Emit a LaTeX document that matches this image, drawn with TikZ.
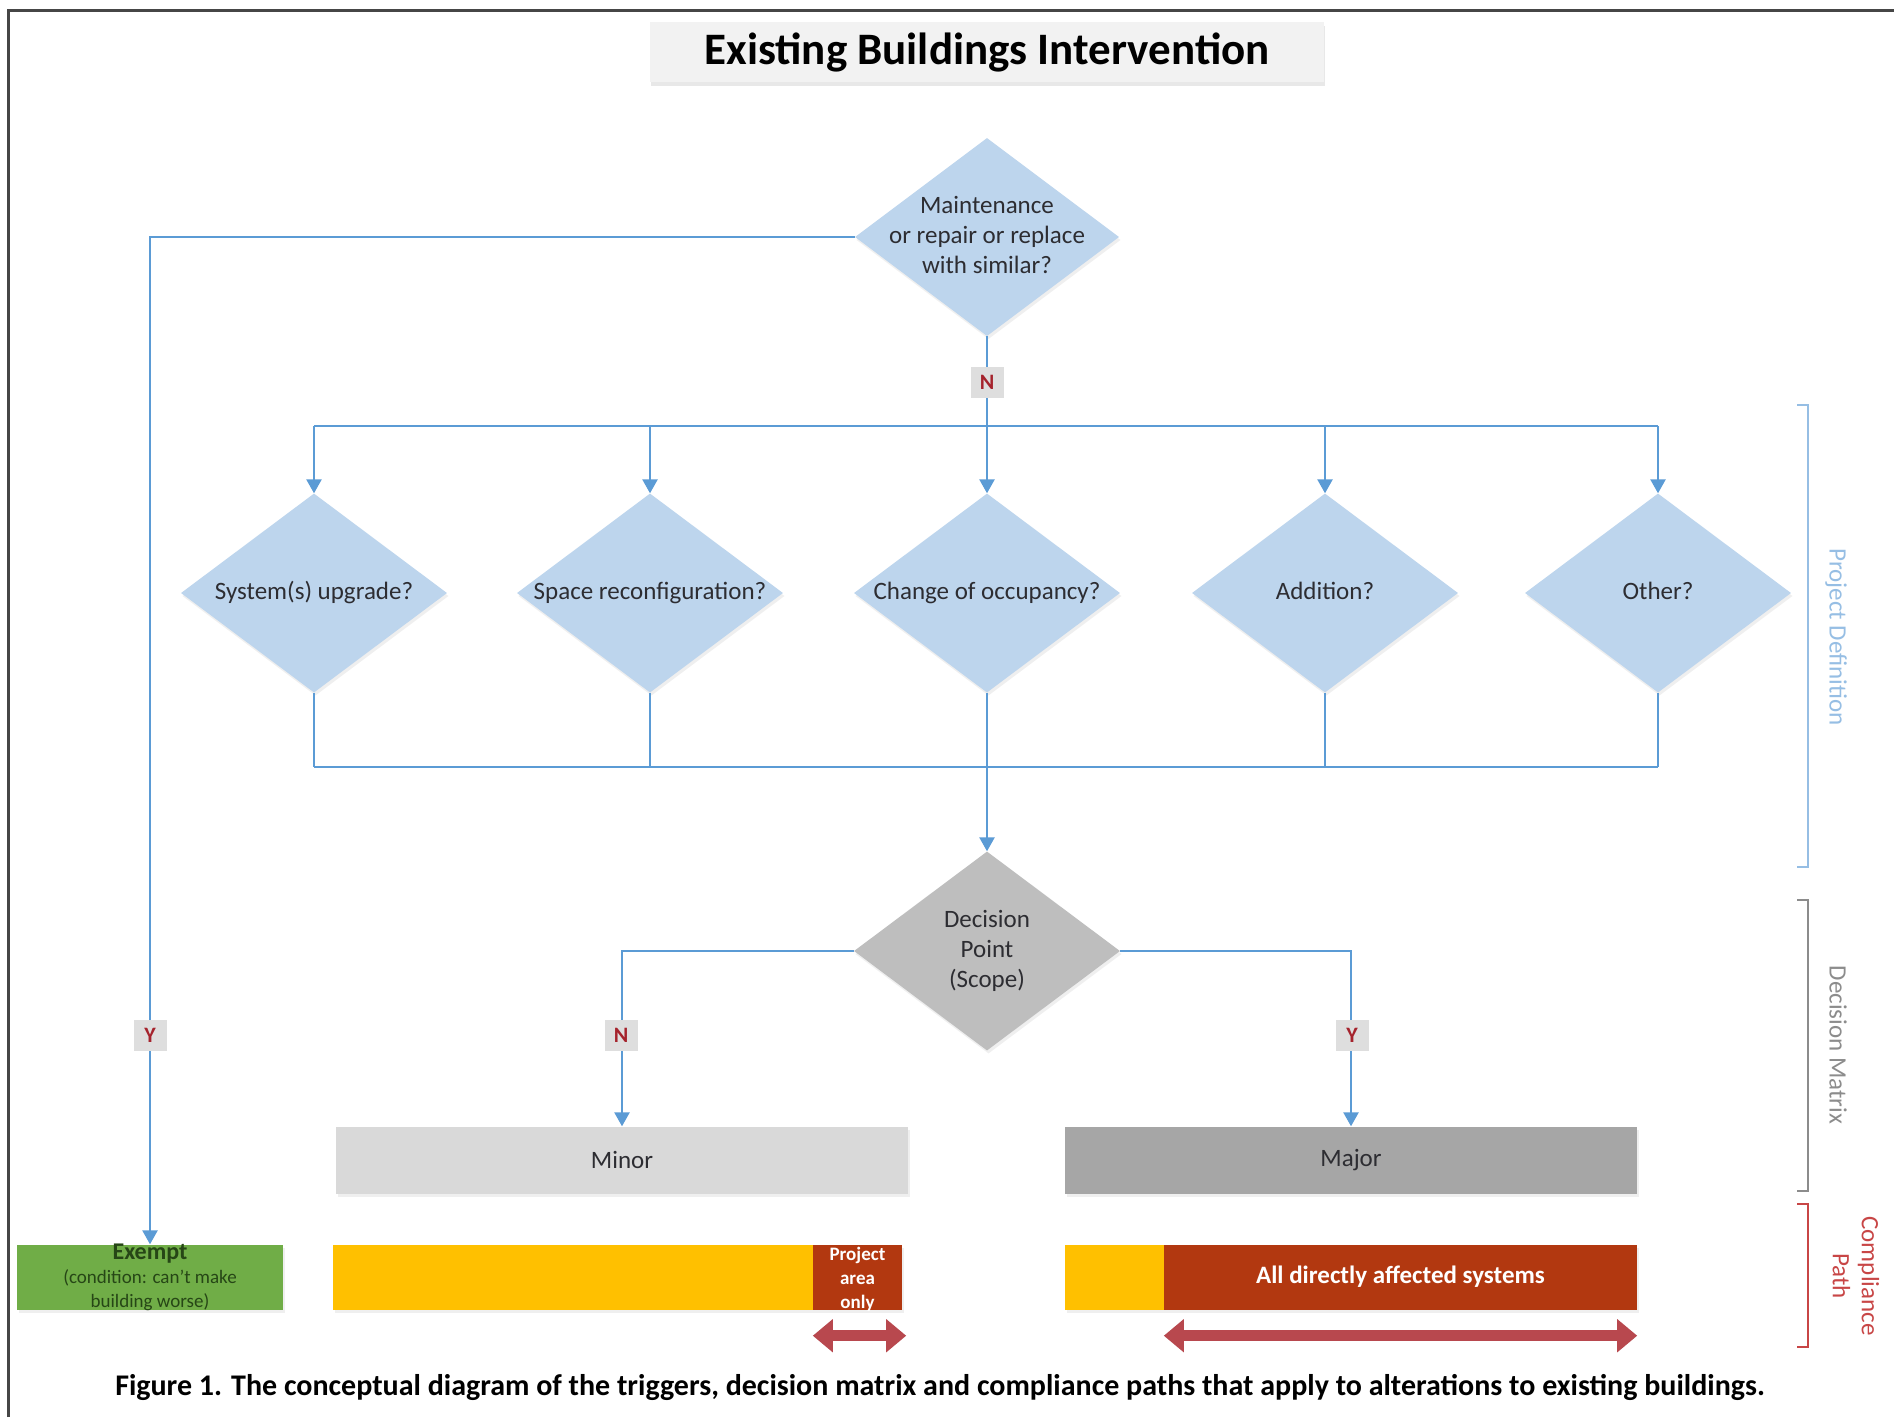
\documentclass[tikz,border=0pt]{standalone}
\usepackage{fontspec}
\setmainfont{Carlito}
\usetikzlibrary{shapes.geometric,arrows.meta,shadows,calc}
\definecolor{lblue}{RGB}{189,213,237}
\definecolor{lineblue}{RGB}{91,155,213}
\definecolor{txtdark}{RGB}{45,45,50}
\definecolor{lblgray}{RGB}{222,222,222}
\definecolor{lblred}{RGB}{165,35,45}
\definecolor{decgray}{RGB}{190,190,190}
\definecolor{minorgray}{RGB}{217,217,217}
\definecolor{majorgray}{RGB}{166,166,166}
\definecolor{exgreen}{RGB}{112,173,71}
\definecolor{extext}{RGB}{38,70,22}
\definecolor{baryellow}{RGB}{255,192,0}
\definecolor{barred}{RGB}{178,56,16}
\definecolor{arrred}{RGB}{184,72,78}
\definecolor{pdblue}{RGB}{150,190,228}
\definecolor{dmgray}{RGB}{140,140,140}
\definecolor{cpred}{RGB}{200,70,70}
\definecolor{framegray}{RGB}{70,70,70}
\newcommand{\ctext}[1]{\makebox[0pt]{\begin{tabular}{@{}c@{}}#1\end{tabular}}}
\begin{document}
\begin{tikzpicture}[x=1pt,y=-1pt,
  softshadow/.style={drop shadow={shadow xshift=1.5pt,shadow yshift=-3pt,opacity=0.12}},
  dia/.style={diamond,fill=lblue,minimum width=266pt,minimum height=199pt,inner sep=0pt,
    text=txtdark,font=\fontsize{25}{30}\selectfont,softshadow},
  ln/.style={draw=lineblue,line width=2.5pt},
  arr/.style={ln,-{Triangle[width=15pt,length=14pt]}},
  lbl/.style={fill=lblgray,minimum width=33pt,minimum height=31pt,inner sep=0pt,
    text=lblred,font=\fontsize{22}{26}\selectfont\bfseries},
  bigbox/.style={minimum width=572pt,minimum height=67pt,inner sep=0pt,
    text=txtdark,font=\fontsize{25}{30}\selectfont,softshadow},
  bar/.style={minimum height=65pt,inner sep=0pt,softshadow},
  dbl/.style={draw=arrred,line width=11pt,
    {Triangle[width=32pt,length=20pt]}-{Triangle[width=32pt,length=20pt]}},
  sidelbl/.style={rotate=-90,font=\fontsize{25}{29}\selectfont}
]
\useasboundingbox (0,0) rectangle (1894,1417);
\fill[white] (0,0) rectangle (1894,1417);
\draw[framegray,line width=3pt] (8,1417) -- (8,10) -- (1894,10);

% title
\node[fill={rgb,255:red,242;green,242;blue,242},minimum width=674pt,minimum height=60pt,
  inner sep=0pt,font=\fontsize{45}{50}\selectfont\bfseries,
  drop shadow={shadow xshift=1pt,shadow yshift=-4pt,opacity=0.18}] (title) at (987,52)
  {Existing Buildings Intervention};

% diamonds
\node[dia,minimum width=264pt,minimum height=198pt] (mnt) at (987,237)
  {\ctext{Maintenance\\or repair or replace\\with similar?}};
\node[dia] (d1) at (314,593) {\ctext{System(s) upgrade?}};
\node[dia] (d2) at (650,593) {\ctext{Space reconfiguration?}};
\node[dia] (d3) at (987,593) {\ctext{Change of occupancy?}};
\node[dia] (d4) at (1325,593) {\ctext{Addition?}};
\node[dia] (d5) at (1658,593) {\ctext{Other?}};
\node[dia,fill=decgray] (dec) at (987,951) {\ctext{Decision\\Point\\(Scope)}};

% scope boxes
\node[bigbox,fill=minorgray] (minor) at (622,1160) {Minor};
\node[bigbox,fill=majorgray] (major) at (1351,1160) {Major};

% compliance bars
\node[bar,fill=exgreen,minimum width=266pt,
  label={[text=extext,align=center,font=\fontsize{19}{24}\selectfont]center:{\fontsize{24}{24}\selectfont\bfseries Exempt\\(condition: can't make\\building worse)}}]
  (exempt) at (150,1277) {};
\node[bar,fill=baryellow,minimum width=480pt] (minbar) at (573,1277) {};
\node[bar,fill=barred,minimum width=89pt,
  label={[text=white,align=center,font=\fontsize{19}{24}\selectfont\bfseries,yshift=-2pt]center:{Project\\area\\only}}]
  (prj) at (857.5,1277) {};
\node[bar,fill=baryellow,minimum width=99pt] (majbar) at (1114.5,1277) {};
\node[bar,fill=barred,minimum width=473pt,text=white,font=\fontsize{25}{29}\selectfont\bfseries]
  (allsys) at (1400.5,1277) {All directly affected systems};

% double arrows
\draw[dbl] ([yshift=-26pt]prj.south west) -- ([xshift=4pt,yshift=-26pt]prj.south east);
\draw[dbl] ([yshift=-26pt]allsys.south west) -- ([yshift=-26pt]allsys.south east);

% buses
\coordinate (bl) at (314,426);
\coordinate (br) at (1658,426);
\coordinate (bbl) at (314,767);
\coordinate (bbr) at (1658,767);

\draw[ln] (mnt.south) -- (mnt.south |- bl);
\draw[ln] (bl) -- (br);
\foreach \d in {d1,d2,d3,d4,d5} {
  \draw[arr] (\d.north |- bl) -- (\d.north);
}
\foreach \d in {d1,d2,d4,d5} {
  \draw[ln] (\d.south) -- (\d.south |- bbl);
}
\draw[ln] (bbl) -- (bbr);
\draw[arr] (d3.south) -- (dec.north);
\draw[arr] (dec.west) -| (minor.north);
\draw[arr] (dec.east) -| (major.north);
\draw[arr] (mnt.west) -| (exempt.north);

% Y/N labels
\node[lbl] (n1) at (987,382) {N};
\node[lbl] (y1) at (150,1035) {Y};
\node[lbl] (n2) at (621,1035) {N};
\node[lbl] (y2) at (1352,1035) {Y};

% side brackets
\draw[pdblue,line width=2pt] (1797,405) -- (1808,405) -- (1808,867) -- (1797,867);
\draw[dmgray,line width=2pt] (1797,900) -- (1808,900) -- (1808,1191) -- (1797,1191);
\draw[cpred,line width=2pt] (1797,1204) -- (1808,1204) -- (1808,1347) -- (1797,1347);
\node[sidelbl,text=pdblue] (pdl) at (1836,637) {Project Definition};
\node[sidelbl,text=dmgray] (dml) at (1838,1045) {Decision Matrix};
\node[sidelbl,text=cpred,align=center] (cpl) at (1856,1276) {Compliance\\Path};

% caption
\node[font=\fontsize{30}{34}\selectfont\bfseries,text=black] (cap) at (940,1387)
  {Figure 1. The conceptual diagram of the triggers, decision matrix and compliance paths that apply to alterations to existing buildings.};
\end{tikzpicture}
\end{document}
